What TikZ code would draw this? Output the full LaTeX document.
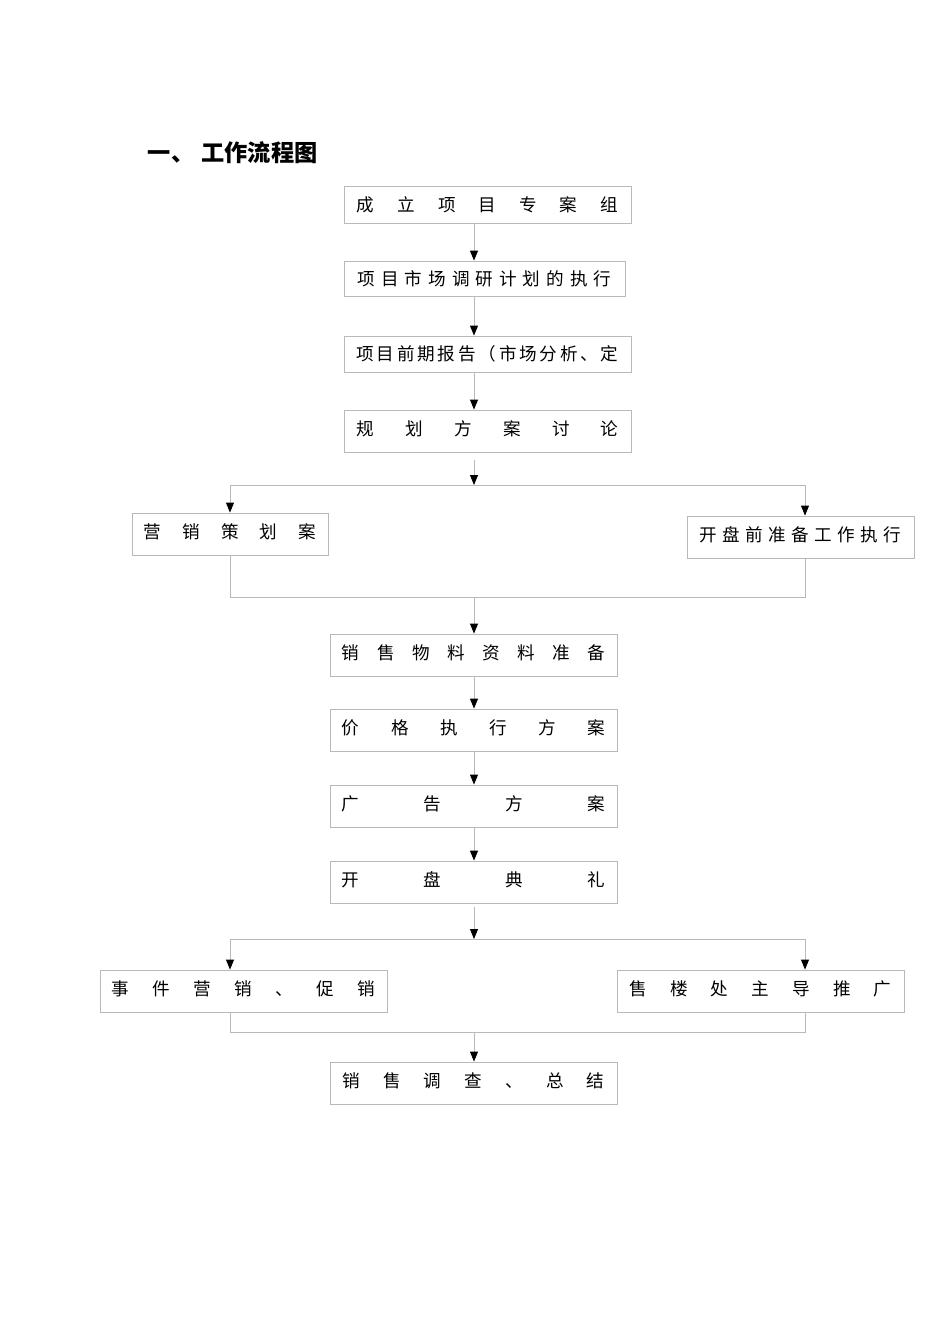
\documentclass[tikz,border=0pt]{standalone}
\usepackage{fontspec}
\newfontfamily\cjk{Noto Sans CJK SC}
\usetikzlibrary{arrows.meta,positioning}

\tikzset{
  stepbox/.style={draw=gray!55, line width=0.6pt, inner sep=0pt,
    font=\cjk\fontsize{12.5}{14}\selectfont},
  tallbox/.style={stepbox, minimum height=1.05cm, text depth=0.13cm},
  link/.style={draw=gray!55, line width=0.6pt},
  flow/.style={link, -{Triangle[length=0.25cm,width=0.2cm,color=black]}},
}
\newcommand{\spreadtext}[2]{\makebox[#1]{#2}}

\begin{document}
\begin{tikzpicture}[x=0.025cm,y=-0.025cm]
    \useasboundingbox (0,0) rectangle (950,1344);

    % Title
    \node[anchor=west, font=\cjk\bfseries\fontsize{16.5}{20}\selectfont] (title) at (143,153)
        {一、\hspace{0.18cm}工作流程图};

    % Main column
    \node[stepbox, minimum width=7.175cm, minimum height=0.925cm] (zhuanan) at (487.5,204.5)
        {\spreadtext{6.525cm}{成\hfill 立\hfill 项\hfill 目\hfill 专\hfill 案\hfill 组}};
    \node[stepbox, minimum width=7.025cm, minimum height=0.875cm] (diaoyan) at (484.5,278.5)
        {\spreadtext{6.35cm}{项\hfill 目\hfill 市\hfill 场\hfill 调\hfill 研\hfill 计\hfill 划\hfill 的\hfill 执\hfill 行}};
    \node[stepbox, minimum width=7.175cm, minimum height=0.9cm] (baogao) at (487.5,354)
        {\spreadtext{6.55cm}{项\hfill 目\hfill 前\hfill 期\hfill 报\hfill 告\hfill （\hfill 市\hfill 场\hfill 分\hfill 析\hfill 、\hfill 定}};
    \node[tallbox, minimum width=7.175cm] (guihua) at (487.5,431)
        {\spreadtext{6.55cm}{规\hfill 划\hfill 方\hfill 案\hfill 讨\hfill 论}};

    % First split
    \node[tallbox, minimum width=4.9cm] (cehua) at (230,534)
        {\spreadtext{4.3cm}{营\hfill 销\hfill 策\hfill 划\hfill 案}};
    \node[tallbox, minimum width=5.675cm] (zhunbei) at (800.5,537)
        {\spreadtext{5.05cm}{开\hfill 盘\hfill 前\hfill 准\hfill 备\hfill 工\hfill 作\hfill 执\hfill 行}};

    \node[tallbox, minimum width=7.175cm] (wuliao) at (473.5,655)
        {\spreadtext{6.575cm}{销\hfill 售\hfill 物\hfill 料\hfill 资\hfill 料\hfill 准\hfill 备}};
    \node[tallbox, minimum width=7.175cm] (jiage) at (473.5,730)
        {\spreadtext{6.575cm}{价\hfill 格\hfill 执\hfill 行\hfill 方\hfill 案}};
    \node[tallbox, minimum width=7.175cm] (guanggao) at (473.5,806)
        {\spreadtext{6.575cm}{广\hfill 告\hfill 方\hfill 案}};
    \node[tallbox, minimum width=7.175cm] (dianli) at (473.5,882)
        {\spreadtext{6.575cm}{开\hfill 盘\hfill 典\hfill 礼}};

    % Second split
    \node[tallbox, minimum width=7.175cm] (cuxiao) at (243.5,991)
        {\spreadtext{6.575cm}{事\hfill 件\hfill 营\hfill 销\hfill 、\hfill 促\hfill 销}};
    \node[tallbox, minimum width=7.175cm] (tuiguang) at (760.5,991)
        {\spreadtext{6.55cm}{售\hfill 楼\hfill 处\hfill 主\hfill 导\hfill 推\hfill 广}};

    \node[tallbox, minimum width=7.175cm] (zongjie) at (473.5,1083)
        {\spreadtext{6.55cm}{销\hfill 售\hfill 调\hfill 查\hfill 、\hfill 总\hfill 结}};

    % Junction points
    \coordinate (trunk) at (474,0);
    \coordinate (s1) at (474,460);
    \coordinate (j1) at (474,485);
    \coordinate (l1) at (230,485);
    \coordinate (r1) at (805,485);
    \coordinate (l2) at (230,597);
    \coordinate (r2) at (805,597);
    \coordinate (m1) at (474,597);
    \coordinate (s2) at (474,907);
    \coordinate (j2) at (474,939);
    \coordinate (l3) at (230,939);
    \coordinate (r3) at (805,939);
    \coordinate (l4) at (230,1032);
    \coordinate (r4) at (805,1032);
    \coordinate (m2) at (474,1032);

    % Connectors
    \draw[flow] (zhuanan.south -| trunk) -- (diaoyan.north -| trunk);
    \draw[flow] (diaoyan.south -| trunk) -- (baogao.north -| trunk);
    \draw[flow] (baogao.south -| trunk) -- (guihua.north -| trunk);
    \draw[flow] (s1) -- (j1);
    \draw[link] (l1) -- (r1);
    \draw[flow] (l1) -- (cehua.north -| l1);
    \draw[flow] (r1) -- (zhunbei.north -| r1);
    \draw[link] (cehua.south -| l2) -- (l2) -- (r2) -- (zhunbei.south -| r2);
    \draw[flow] (m1) -- (wuliao.north -| m1);
    \draw[flow] (wuliao.south -| trunk) -- (jiage.north -| trunk);
    \draw[flow] (jiage.south -| trunk) -- (guanggao.north -| trunk);
    \draw[flow] (guanggao.south -| trunk) -- (dianli.north -| trunk);
    \draw[flow] (s2) -- (j2);
    \draw[link] (l3) -- (r3);
    \draw[flow] (l3) -- (cuxiao.north -| l3);
    \draw[flow] (r3) -- (tuiguang.north -| r3);
    \draw[link] (cuxiao.south -| l4) -- (l4) -- (r4) -- (tuiguang.south -| r4);
    \draw[flow] (m2) -- (zongjie.north -| m2);
\end{tikzpicture}
\end{document}
